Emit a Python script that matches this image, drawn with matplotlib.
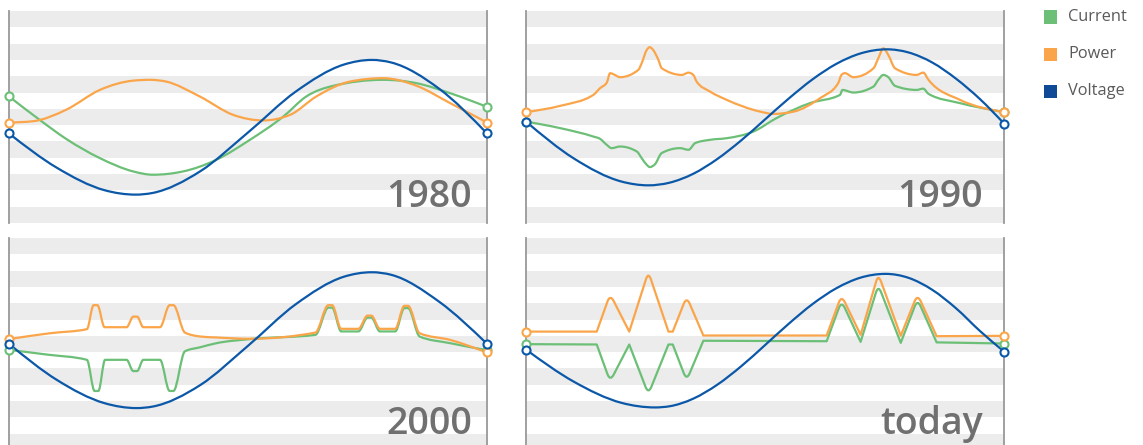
import numpy as np
import matplotlib.pyplot as plt
from matplotlib.path import Path
from matplotlib.patches import PathPatch, Rectangle

plt.rcParams['font.family'] = ['Open Sans', 'DejaVu Sans']

'''
Values read off the picture.
x runs 0..1 across a panel, y is counted in stripes (13 per panel, 0 at the bottom)
'''

series_names = ['Current', 'Power', 'Voltage']
panel_labels = ['1980', '1990', '2000', 'today']

# 1980
current_1980_x = [0, .063, .12, .19, .26, .301, .364, .434, .504, .574, .622, .678, .783, .853, .923, 1]
current_1980_y = [7.76, 6.35, 5.15, 3.98, 3.16, 2.96, 3.16, 3.88, 5.10, 6.53, 7.76, 8.41, 8.78, 8.57, 7.96, 7.12]
power_1980_x = [0, .05, .12, .19, .26, .295, .329, .399, .469, .532, .588, .643, .713, .783, .853, .923, 1]
power_1980_y = [6.16, 6.24, 6.95, 8.16, 8.73, 8.78, 8.67, 7.76, 6.63, 6.29, 6.63, 7.76, 8.67, 8.88, 8.41, 7.35, 6.16]
voltage_1980_x = [0, .1, .2, .265, .3, .4, .5, .6, .7, .759, .8, .9, 1]
voltage_1980_y = [5.49, 3.39, 2.01, 1.74, 1.84, 3.17, 5.55, 8.06, 9.71, 10.0, 9.84, 8.23, 5.49]

# 1990
current_1990_x = [0, .071, .141, .155, .169, .179, .197, .232, .242, .2525, .259, .27, .284, .322, .34, .354,
                  .385, .42, .476, .524, .594, .657, .662, .685, .727, .737, .7476, .758, .772, .817, .831,
                  .842, .908, 1]
current_1990_y = [6.22, 5.82, 5.30, 5.16, 4.79, 4.59, 4.69, 4.38, 3.98, 3.57, 3.43, 3.61, 4.29, 4.59, 4.49, 4.90,
                  5.10, 5.20, 5.61, 6.43, 7.35, 7.86, 8.16, 8.00, 8.37, 8.78, 9.08, 8.94, 8.41, 8.16, 8.24,
                  7.92, 7.35, 6.80]
power_1990_x = [0, .071, .141, .155, .169, .176, .183, .197, .235, .242, .2525, .259, .266, .277, .284, .326,
                .34, .35, .357, .385, .42, .49, .517, .56, .615, .653, .66, .667, .685, .727, .737, .7476,
                .758, .772, .817, .831, .842, .908, 1]
power_1990_y = [6.80, 7.18, 7.86, 8.27, 8.61, 9.19, 9.12, 8.94, 9.39, 9.80, 10.61, 10.78, 10.61, 10.0, 9.49, 9.08,
                9.22, 9.08, 8.67, 8.06, 7.55, 6.83, 6.69, 6.83, 7.65, 8.57, 9.08, 9.19, 8.94, 9.49, 10.1, 10.71,
                10.3, 9.49, 9.08, 9.22, 8.78, 7.55, 6.80]
voltage_1990_x = [0, .1, .2, .256, .3, .35, .4, .45, .5, .55, .6, .65, .7, .755, .8, .85, .9, .95, 1]
voltage_1990_y = [6.22, 3.96, 2.54, 2.31, 2.47, 3.02, 3.92, 5.06, 6.35, 7.64, 8.82, 9.77, 10.40, 10.65, 10.46,
                  9.84, 8.84, 7.59, 6.10]

# 2000 (each bump/dip tip is a short plateau of two points)
current_2000_x = [0, .08, .163, .179, .187, .201, .246, .26, .268, .281, .316, .336, .344, .368, .40, .434, .504,
                  .641, .668, .676, .695, .731, .75, .758, .776, .808, .827, .835, .859, .923, 1]
current_2000_y = [6.14, 5.85, 5.53, 3.62, 3.62, 5.53, 5.53, 4.84, 4.84, 5.53, 5.53, 3.62, 3.62, 6.05, 6.30, 6.55,
                  6.80, 7.06, 8.73, 8.73, 7.27, 7.27, 8.12, 8.12, 7.27, 7.27, 8.70, 8.70, 6.96, 6.55, 6.12]
power_2000_x = [0, .086, .163, .177, .185, .200, .246, .26, .268, .281, .316, .336, .344, .368, .40, .434, .504,
                .641, .668, .676, .695, .731, .75, .758, .776, .808, .827, .835, .859, .923, 1]
power_2000_y = [6.80, 7.16, 7.41, 8.88, 8.88, 7.53, 7.53, 8.18, 8.18, 7.53, 7.53, 8.88, 8.88, 7.20, 6.96, 6.90,
                6.82, 7.20, 8.88, 8.88, 7.43, 7.43, 8.24, 8.24, 7.43, 7.43, 8.84, 8.84, 7.16, 6.75, 5.98]
voltage_2000_x = [0, .1, .2, .267, .3, .4, .5, .6, .7, .759, .8, .9, 1]
voltage_2000_y = [6.51, 4.30, 2.87, 2.57, 2.66, 3.98, 6.39, 8.94, 10.62, 10.90, 10.74, 9.09, 6.51]

# today
current_today_x = [0, .148, .176, .216, .256, .298, .307, .336, .371, .629, .66, .70, .737, .784, .819, .859, 1]
current_today_y = [6.49, 6.47, 4.20, 6.47, 3.42, 6.47, 6.47, 4.26, 6.70, 6.67, 9.15, 6.63, 10.12, 6.57, 9.25, 6.60, 6.53]
power_today_x = [0, .148, .176, .216, .256, .298, .307, .336, .371, .629, .66, .70, .737, .784, .819, .859, 1]
power_today_y = [7.26, 7.26, 9.56, 7.26, 10.93, 7.26, 7.26, 9.41, 7.02, 7.02, 9.49, 7.06, 10.79, 7.00, 9.56, 6.98, 7.00]
voltage_today_x = [0, .1, .2, .27, .3, .35, .4, .45, .5, .55, .6, .65, .7, .752, .8, .85, .9, .95, 1]
voltage_today_y = [6.16, 4.19, 2.89, 2.61, 2.68, 3.15, 4.00, 5.13, 6.43, 7.75, 8.96, 9.93, 10.57, 10.80, 10.56,
                   9.82, 8.68, 7.29, 6.04]

panels = [
    [(current_1980_x, current_1980_y), (power_1980_x, power_1980_y), (voltage_1980_x, voltage_1980_y)],
    [(current_1990_x, current_1990_y), (power_1990_x, power_1990_y), (voltage_1990_x, voltage_1990_y)],
    [(current_2000_x, current_2000_y), (power_2000_x, power_2000_y), (voltage_2000_x, voltage_2000_y)],
    [(current_today_x, current_today_y), (power_today_x, power_today_y), (voltage_today_x, voltage_today_y)],
]

colors = ['#6cbf76', '#fba54a', '#0b58a8']
legend_colors = ['#6cbf76', '#fba54a', '#0e4a96']
stripe_color = '#ececec'
text_color = '#707070'


def monotone_path(x, y):
    # monotone cubic (same idea as d3.curveMonotoneX), as bezier segments
    x = np.asarray(x, float)
    y = np.asarray(y, float)
    h = np.diff(x)
    s = np.diff(y) / h
    n = len(x)
    t = np.zeros(n)
    for i in range(1, n - 1):
        p = (s[i - 1] * h[i] + s[i] * h[i - 1]) / (h[i - 1] + h[i])
        t[i] = (np.sign(s[i - 1]) + np.sign(s[i])) * min(abs(s[i - 1]), abs(s[i]), 0.5 * abs(p))
    t[0] = (3 * s[0] - t[1]) / 2
    t[-1] = (3 * s[-1] - t[-2]) / 2
    verts = [(x[0], y[0])]
    codes = [Path.MOVETO]
    for i in range(n - 1):
        dx = h[i] / 3
        verts += [(x[i] + dx, y[i] + dx * t[i]), (x[i + 1] - dx, y[i + 1] - dx * t[i + 1]), (x[i + 1], y[i + 1])]
        codes += [Path.CURVE4] * 3
    return Path(verts, codes)


def spiky_path(ax, x, y, cut=8.0):
    # straight segments, only the tips of the spikes get rounded
    y = np.asarray(y, float)
    pts = ax.transData.transform(np.column_stack([x, y]))
    mid = np.median(y)
    verts = [pts[0]]
    codes = [Path.MOVETO]
    for i in range(1, len(pts) - 1):
        tip_up = y[i] > max(y[i - 1], y[i + 1]) and y[i] > mid + 0.5
        tip_down = y[i] < min(y[i - 1], y[i + 1]) and y[i] < mid - 0.5
        if tip_up or tip_down:
            a = pts[i] - pts[i - 1]
            b = pts[i + 1] - pts[i]
            la, lb = np.hypot(*a), np.hypot(*b)
            p0 = pts[i] - a / la * min(cut, 0.45 * la)
            p1 = pts[i] + b / lb * min(cut, 0.45 * lb)
            verts += [p0, pts[i], p1]
            codes += [Path.LINETO, Path.CURVE3, Path.CURVE3]
        else:
            verts.append(pts[i])
            codes.append(Path.LINETO)
    verts.append(pts[-1])
    codes.append(Path.LINETO)
    return Path(ax.transData.inverted().transform(np.array(verts)), codes)


W, H = 1143, 445
fig = plt.figure(figsize=(W / 100, H / 100), dpi=100)

# panel boxes in pixels: left, top, right edge of the year label
boxes = [(9, 11, 472), (526, 11, 983), (9, 238, 472), (526, 238, 983)]
pw, ph = 478, 212

for k, (left, top, label_right) in enumerate(boxes):
    ax = fig.add_axes([left / W, (H - top - ph) / H, pw / W, ph / H])
    ax.set_xlim(0, 1)
    ax.set_ylim(0, 13)
    ax.axis('off')

    for b in range(0, 13, 2):
        ax.axhspan(b, b + 1, color=stripe_color, lw=0, zorder=0)
    for xv in (0, 1):
        ax.axvline(xv, color='#999999', lw=1.3, clip_on=False, zorder=1)

    ax.text((label_right - left) / pw, 0.075, panel_labels[k], transform=ax.transAxes, ha='right',
            va='baseline', fontsize=27, fontweight='semibold', color=text_color, zorder=2)

    for j, (sx, sy) in enumerate(panels[k]):
        if panel_labels[k] == 'today' and j < 2:
            path = spiky_path(ax, sx, sy)
        else:
            path = monotone_path(sx, sy)
        ax.add_patch(PathPatch(path, facecolor='none', edgecolor=colors[j], lw=1.6,
                               joinstyle='round', capstyle='round', zorder=3 + j))
        ax.plot([sx[0], sx[-1]], [sy[0], sy[-1]], 'o', ms=5.8, mfc='white', mec=colors[j], mew=1.5,
                clip_on=False, zorder=7 + j)

# legend
legend_y = [17, 54, 91]
for name, c, yc in zip(series_names, legend_colors, legend_y):
    fig.add_artist(Rectangle((1044 / W, 1 - (yc + 6.5) / H), 13 / W, 13 / H,
                             transform=fig.transFigure, color=c, lw=0))
    fig.text(1068 / W, 1 - yc / H, name, ha='left', va='center', fontsize=11.8, color='#5a5a5a')

fig.savefig('out.png', dpi=100)
